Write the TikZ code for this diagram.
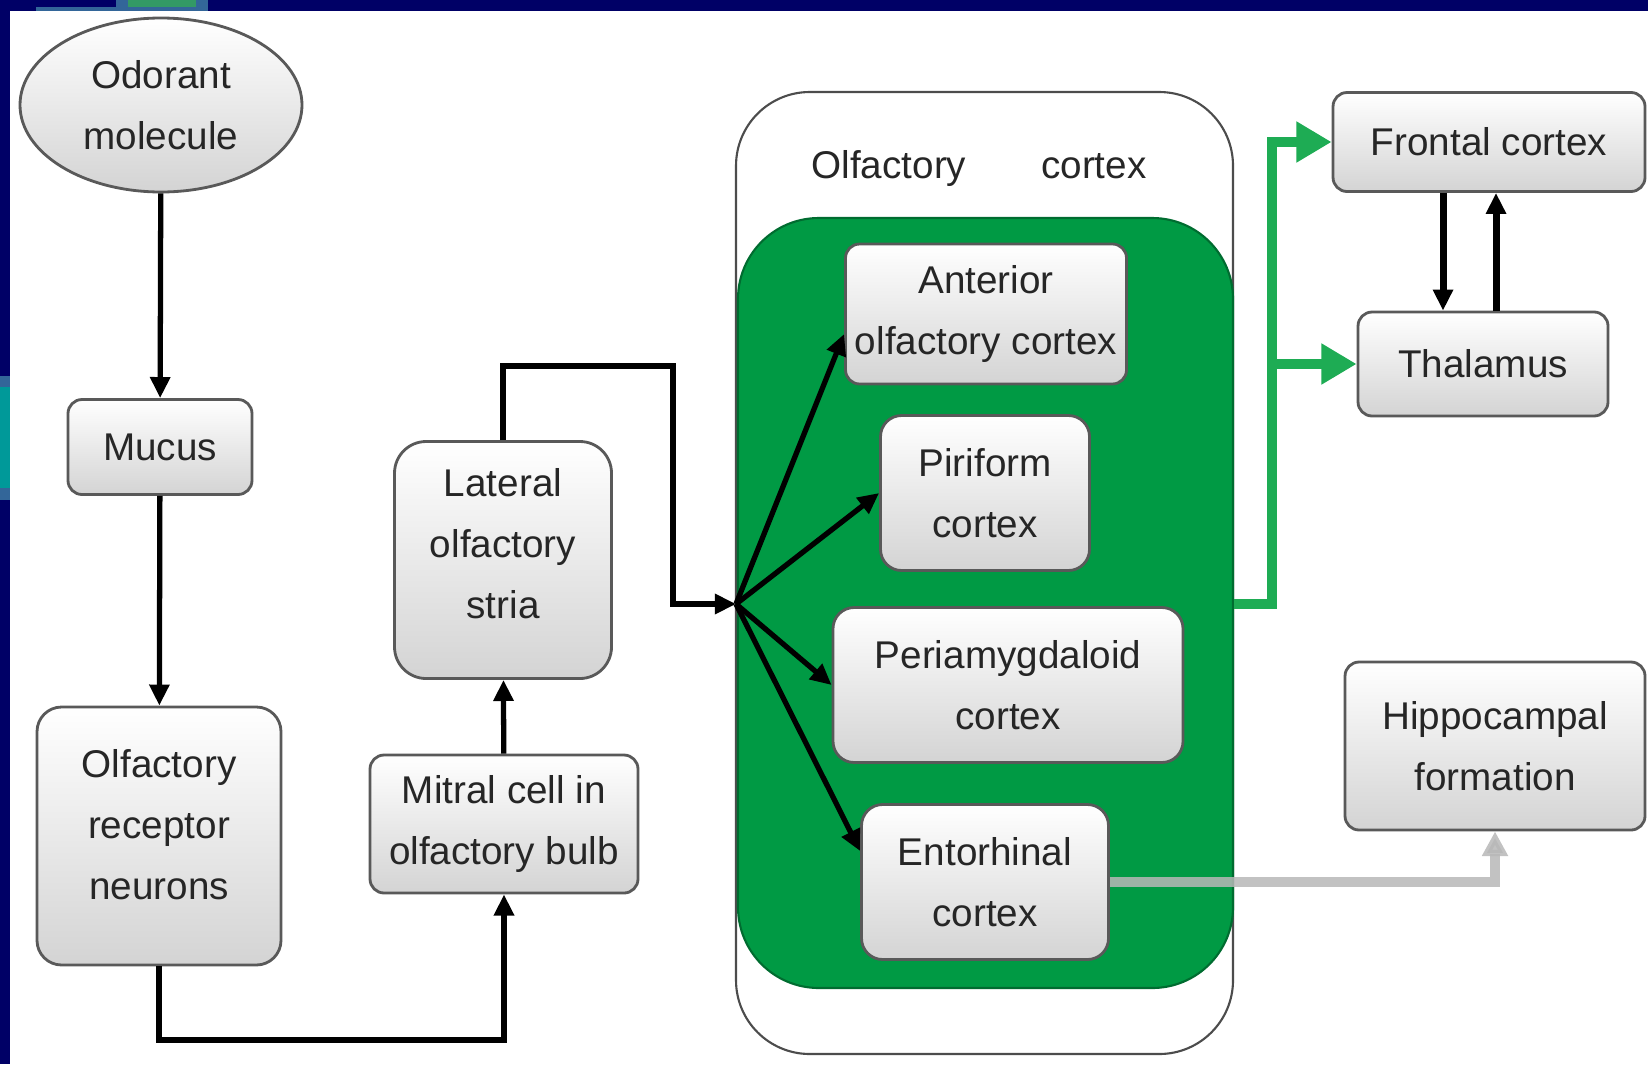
\documentclass[tikz,border=0pt]{standalone}
\usepackage{fontspec}
\setmainfont{Liberation Sans}
\usetikzlibrary{arrows.meta,shapes.geometric}
\definecolor{navy}{RGB}{0,0,102}
\definecolor{steel}{RGB}{51,102,153}
\definecolor{sea}{RGB}{51,153,102}
\definecolor{tealbar}{RGB}{0,153,153}
\definecolor{cortexgreen}{RGB}{0,154,68}
\definecolor{pathgreen}{RGB}{30,172,84}
\begin{document}
\begin{tikzpicture}[x=0.1mm,y=-0.1mm,
			box/.style={draw=black!65, line width=0.8pt, rounded corners=4pt,
				top color=white, bottom color=black!17, align=center,
				font=\fontsize{11}{17.4}\selectfont, text=black!85, inner sep=0pt},
			boxtext/.style={align=center, font=\fontsize{11}{17.4}\selectfont, text=black!85, inner sep=0pt},
			link/.style={line width=1.5pt, -{Triangle[length=6pt,width=5.5pt]}},
			grlink/.style={pathgreen, line width=2.8pt, -{Triangle[length=10pt,width=11pt]}},
			gylink/.style={black!28, opacity=0.85, line width=2.6pt, -{Triangle[length=7pt,width=7pt]}}]

	% frame of the slide
	\useasboundingbox (0,0) rectangle (1648,1064);
	\fill[navy] (0,0) rectangle (1648,1064);
	\fill[white] (10,11) rectangle (1648,1064);
	\fill[steel] (36,7) rectangle (116,11);
	\fill[steel] (116,0) rectangle (208,11);
	\fill[sea] (128,0) rectangle (196,7);
	\fill[steel] (0,376) rectangle (10,500);
	\fill[tealbar] (0,387) rectangle (10,488);

	% left column
	\node[box, ellipse, minimum width=28.2mm, minimum height=17.4mm] (odor) at (161,105) {Odorant\\molecule};
	\node[box, minimum width=18.4mm, minimum height=9.5mm] (mucus) at (160,447) {Mucus};
	\node[box, rounded corners=7pt, minimum width=24.4mm, minimum height=25.8mm] (orn) at (159,836) {};
	\node[boxtext] (orntext) at (159,825) {Olfactory\\receptor\\neurons};
	\node[box, minimum width=26.8mm, minimum height=13.8mm] (mitral) at (504,824) {Mitral cell in\\olfactory bulb};
	\node[box, rounded corners=9pt, minimum width=21.7mm, minimum height=23.7mm] (lat) at (503,560) {};
	\node[boxtext] (lattext) at (503,544) {Lateral\\olfactory\\stria};

	% olfactory cortex
	\node[draw=black!70, line width=0.6pt, rounded corners=21pt, minimum width=49.7mm, minimum height=96.2mm] (olf) at (984.5,573) {};
	\node[boxtext] (olftitle) at (979,169) {Olfactory\hspace{7.5mm}cortex};
	\node[draw=cortexgreen!70!black, fill=cortexgreen, line width=0.6pt, rounded corners=23pt, minimum width=49.5mm, minimum height=77mm] (green) at (985.5,603) {};
	\node[box, minimum width=28.1mm, minimum height=14mm] (ant) at (986,314) {Anterior\\olfactory cortex};
	\node[box, rounded corners=6pt, minimum width=20.9mm, minimum height=15.5mm] (pir) at (985,493) {Piriform\\cortex};
	\node[box, rounded corners=6pt, minimum width=35mm, minimum height=15.5mm] (peri) at (1008,685) {Periamygdaloid\\cortex};
	\node[box, rounded corners=6pt, minimum width=24.7mm, minimum height=15.5mm] (ento) at (985,882) {Entorhinal\\cortex};
	\coordinate (hub) at (736,604);

	% right column
	\node[box, minimum width=31.2mm, minimum height=9.9mm] (frontal) at (1489,142) {Frontal cortex};
	\node[box, minimum width=25mm, minimum height=10.4mm] (thal) at (1483,364) {Thalamus};
	\node[box, minimum width=30mm, minimum height=16.8mm] (hippo) at (1495,746) {Hippocampal\\formation};

	% connectors
	\draw[link] (odor) -- (mucus);
	\draw[link] (mucus) -- (orn);
	\draw[link] (orn.south) -- (orn.south |- 0,1040) -| (mitral.south);
	\draw[link] (mitral) -- (lat);
	\draw[link] (lat.north) |- (673,366) |- (hub);
	\draw[link] (hub) -- (ant.west |- 0,334);
	\draw[link] (hub) -- (pir.west);
	\draw[link] (hub) -- (peri.west);
	\draw[link] (hub) -- (ento.west |- 0,851);
	\coordinate (split) at (1272,604);
	\draw[grlink] (green.east |- hub) -- (split) |- (frontal.west);
	\draw[grlink] (split |- thal.west) -- (thal.west);
	\draw[link, line width=2pt] (1443,0 |- frontal.south) -- (1443,0 |- thal.north);
	\draw[link, line width=2pt] (1496,0 |- thal.north) -- (1496,0 |- frontal.south);
	\draw[gylink] (ento.east) -| (hippo.south);
\end{tikzpicture}
\end{document}
